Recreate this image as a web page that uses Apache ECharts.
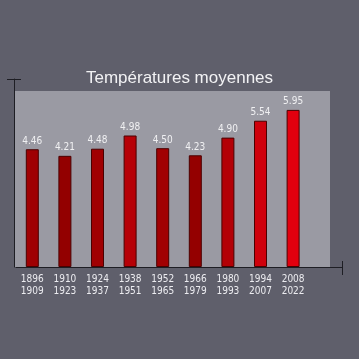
<!DOCTYPE html>
<html><head><meta charset="utf-8">
<style>html,body{margin:0;padding:0;background:#5f5f6b;}#c{width:359px;height:359px;}</style>
<script src="https://cdn.jsdelivr.net/npm/echarts@6/dist/echarts.min.js"></script>
</head><body><div id="c"></div>
<script>
var title = 'Températures moyennes';
var categories = ['1896\n1909','1910\n1923','1924\n1937','1938\n1951','1952\n1965','1966\n1979','1980\n1993','1994\n2007','2008\n2022'];
var values = [4.46, 4.21, 4.48, 4.98, 4.50, 4.23, 4.90, 5.54, 5.95];

var chart = echarts.init(document.getElementById('c'), null, {renderer:'canvas'});
var font = '"Liberation Sans Narrow","DejaVu Sans Condensed","Liberation Sans",Arial,sans-serif';
chart.setOption({
  backgroundColor: '#5f5f6b',
  animation: false,
  title: {text: title, left: 'center', top: 65, textStyle: {color:'#f2f2f4', fontSize: 17, fontWeight: 'normal', fontFamily: '"Liberation Sans",Arial,sans-serif'}},
  graphic: [
    {type:'rect', z: -1, shape:{x:14, y:91, width:316, height:176}, style:{fill:'#9a9aa3'}},
    {type:'line', shape:{x1:7, y1:79.5, x2:21, y2:79.5}, style:{stroke:'#1e1e24', lineWidth:1}},
    {type:'line', shape:{x1:342.5, y1:261, x2:342.5, y2:275}, style:{stroke:'#1e1e24', lineWidth:1}}
  ],
  visualMap: {show:false, type:'continuous', min:4.2, max:5.95, dimension:1, seriesIndex:0, inRange:{color:['#930000','#e2000e']}},
  grid: {left:16, right:17, top:79, bottom:92, containLabel:false},
  xAxis: {
    type:'category', data: categories, max: 9, boundaryGap: true,
    axisLine:{show:true, lineStyle:{color:'#1e1e24', width:1}},
    axisTick:{show:false},
    axisLabel:{color:'#ececf0', fontSize:10, fontFamily: font, lineHeight:12, margin:6, interval:0}
  },
  yAxis: {
    type:'value', min:0, max:7.12, offset:2,
    axisLine:{show:true, lineStyle:{color:'#1e1e24', width:1}},
    axisTick:{show:false}, axisLabel:{show:false}, splitLine:{show:false}
  },
  series: [{
    type:'bar', data: values, barWidth: 13,
    itemStyle:{borderColor:'#4a0000', borderWidth:1},
    label:{show:true, position:'top', distance:3, color:'#f0f0f2', fontSize:10, fontFamily: font, formatter: function(p){return p.value.toFixed(2);}}
  }]
});
</script></body></html>
